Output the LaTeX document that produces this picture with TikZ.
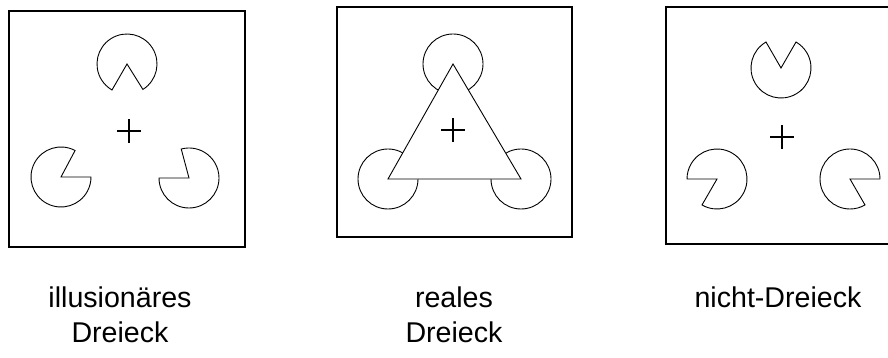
\documentclass[tikz,border=0pt]{standalone}
\usepackage{fontspec}
\setmainfont{Liberation Sans}
\usetikzlibrary{calc}
\tikzset{
  frame/.style={draw=black,line width=1.2pt},
  pacshape/.style={draw=black,line width=0.9pt,line join=miter},
  crossline/.style={draw=black,line width=1.6pt},
  tri/.style={draw=black,fill=white,line width=0.9pt},
  caption/.style={font=\fontsize{28.6}{35}\selectfont,align=center,anchor=base,inner sep=0pt}
}
% #1 centre name, #2 mouth start angle, #3 mouth end angle
\newcommand{\pacman}[3]{%
  \draw[pacshape] (#1) -- ($(#1)+(#3:30pt)$) arc[start angle=#3, end angle={#2+360}, radius=30pt] -- cycle;}
\newcommand{\plus}[1]{%
  \draw[crossline] ($(#1)+(-12pt,0)$) -- ($(#1)+(12pt,0)$);
  \draw[crossline] ($(#1)+(0,-12pt)$) -- ($(#1)+(0,12pt)$);}
\begin{document}
\begin{tikzpicture}[x=1pt,y=1pt]
\useasboundingbox (0,0) rectangle (888,358);
% panel 1: illusory triangle
\draw[frame] (9,347) rectangle (245,111);
\coordinate (a1) at (127,294);
\coordinate (a2) at (61,181);
\coordinate (a3) at (189,180);
\coordinate (c1) at (129,227);
\pacman{a1}{240}{302}
\pacman{a2}{0}{62}
\pacman{a3}{105}{180}
\plus{c1}
% panel 2: real triangle
\draw[frame] (337,351) rectangle (572,121);
\coordinate (b1) at (453,294);
\coordinate (b2) at (388,179);
\coordinate (b3) at (521,179);
\coordinate (c2) at (453,228);
\draw[pacshape] (b1) circle[radius=30pt];
\draw[pacshape] (b2) circle[radius=30pt];
\draw[pacshape] (b3) circle[radius=30pt];
\draw[tri] (b1) -- (b2) -- (b3) -- cycle;
\plus{c2}
% panel 3: non-triangle
\draw[frame] (666,351) rectangle (895,114);
\coordinate (d1) at (781,290);
\coordinate (d2) at (717,179);
\coordinate (d3) at (850,179);
\coordinate (c3) at (782,221);
\pacman{d1}{60}{120}
\pacman{d2}{180}{240}
\pacman{d3}{300}{360}
\plus{c3}
% captions
\node[caption] (t1) at (120,15) {illusionäres\\Dreieck};
\node[caption] (t2) at (454,15) {reales\\Dreieck};
\node[caption] (t3) at (778,50) {nicht-Dreieck};
\end{tikzpicture}
\end{document}
